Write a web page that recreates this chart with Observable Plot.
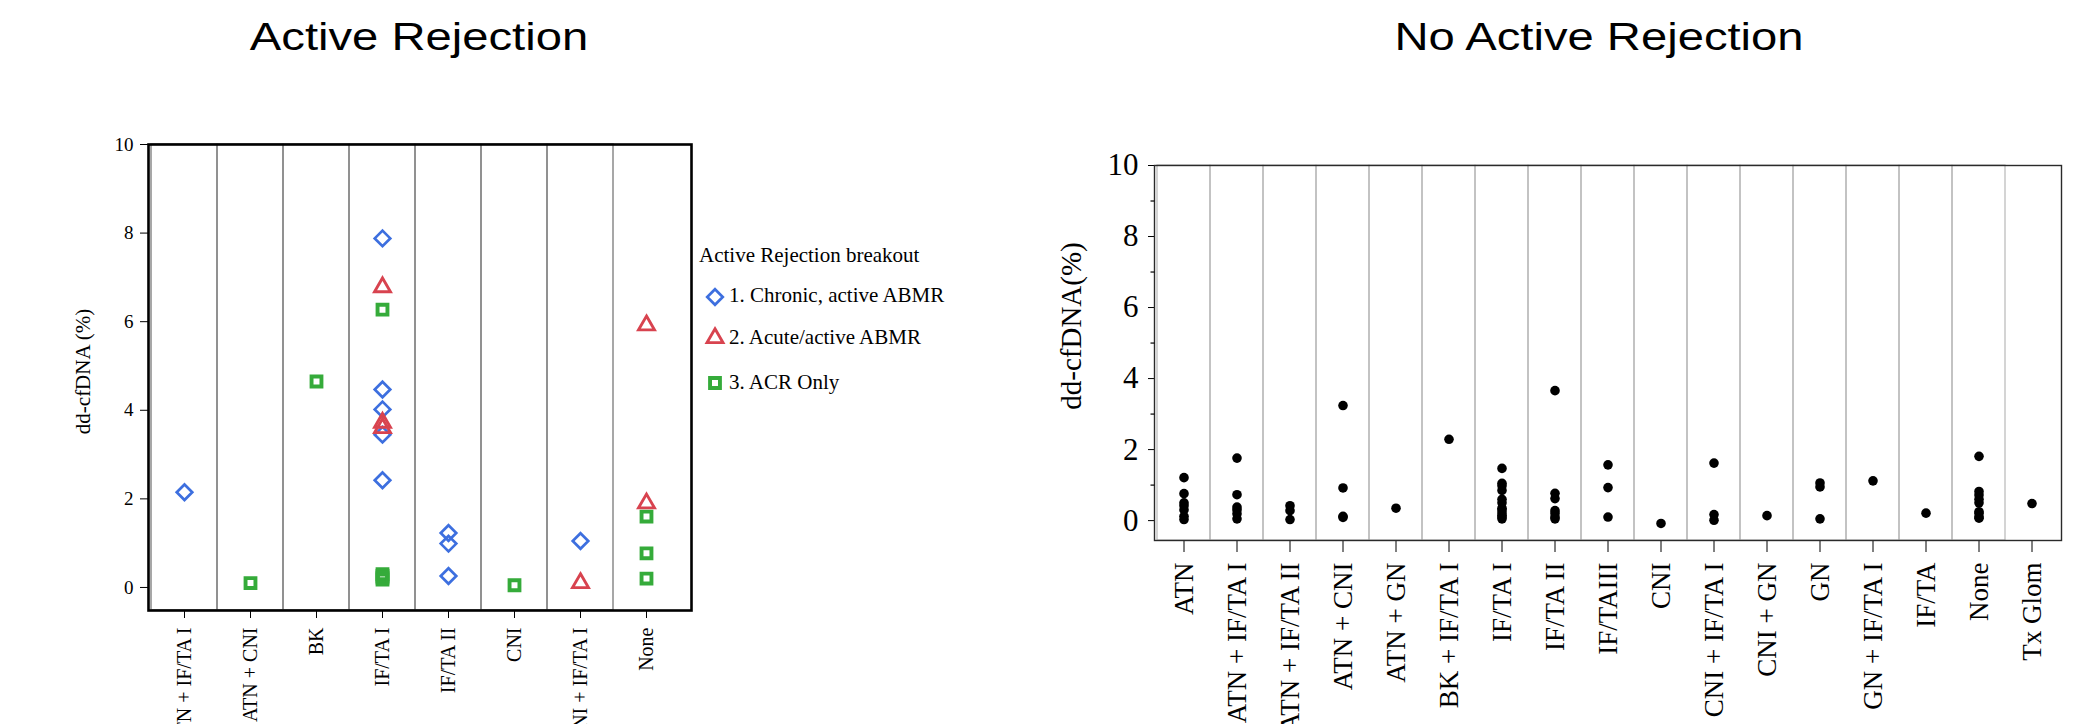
<!DOCTYPE html>
<html>
<head>
<meta charset="utf-8">
<script src="https://cdn.jsdelivr.net/npm/d3@7"></script>
<script src="https://cdn.jsdelivr.net/npm/@observablehq/plot@0.6"></script>
<style>
  html, body { margin: 0; padding: 0; background: #fff; }
  #page { position: relative; width: 2096px; height: 724px; overflow: hidden; background: #fff; }
  .title { position: absolute; top: 17px; font-family: "Liberation Sans", Arial, sans-serif; font-size: 39px; line-height: 39px; color: #000; white-space: nowrap; transform: translateX(-50%) scaleX(1.21); }
  .chart { position: absolute; top: 100px; }
  #left { left: 0; }
  #right { left: 1000px; }
  #left [aria-label^="y-axis"] text { font-size: 19px; }
  #left [aria-label^="x-axis"] text { font-size: 20px; }
  #right [aria-label^="y-axis"] text { font-size: 31px; }
  #right [aria-label^="x-axis"] text { font-size: 27px; }
  .leg { position: absolute; font-family: "Liberation Serif", "Times New Roman", serif; font-size: 21px; line-height: 21px; color: #000; white-space: nowrap; }
  .legsym { position: absolute; }
</style>
</head>
<body>
<div id="page">
  <div class="title" style="left:419px">Active Rejection</div>
  <div class="title" style="left:1599px">No Active Rejection</div>
  <div id="left" class="chart"></div>
  <div id="right" class="chart"></div>
</div>
<script>
// ---------------- Data: Active Rejection ----------------
const leftCategories = ["ATN + IF/TA I", "ATN + CNI", "BK", "IF/TA I", "IF/TA II", "CNI", "CNI + IF/TA I", "None"];
const leftYTicks = [0, 2, 4, 6, 8, 10];

const chronicCategory = ["ATN + IF/TA I", "IF/TA I", "IF/TA I", "IF/TA I", "IF/TA I", "IF/TA I", "IF/TA II", "IF/TA II", "IF/TA II", "CNI + IF/TA I"];
const chronicValue    = [2.15, 7.88, 4.47, 4.02, 3.45, 2.42, 1.23, 0.99, 0.26, 1.05];

const acuteCategory = ["IF/TA I", "IF/TA I", "IF/TA I", "CNI + IF/TA I", "None", "None"];
const acuteValue    = [6.78, 3.72, 3.6, 0.1, 5.92, 1.9];

const acrCategory = ["ATN + CNI", "BK", "IF/TA I", "IF/TA I", "IF/TA I", "IF/TA I", "IF/TA I", "CNI", "None", "None", "None"];
const acrValue    = [0.1, 4.65, 6.27, 0.3, 0.26, 0.22, 0.18, 0.05, 1.6, 0.77, 0.2];

const legendTitle = "Active Rejection breakout";
const groupNames = ["1. Chronic, active ABMR", "2. Acute/active ABMR", "3. ACR Only"];

// ---------------- Data: No Active Rejection ----------------
const rightCategories = ["ATN", "ATN + IF/TA I", "ATN + IF/TA II", "ATN + CNI", "ATN + GN", "BK + IF/TA I", "IF/TA I", "IF/TA II", "IF/TAIII", "CNI", "CNI + IF/TA I", "CNI + GN", "GN", "GN + IF/TA I", "IF/TA", "None", "Tx Glom"];
const rightYTicks = [0, 2, 4, 6, 8, 10];
const rightMinorTicks = [1, 3, 5, 7, 9];

const noRejCategory = [
  "ATN", "ATN", "ATN", "ATN", "ATN", "ATN", "ATN",
  "ATN + IF/TA I", "ATN + IF/TA I", "ATN + IF/TA I", "ATN + IF/TA I", "ATN + IF/TA I", "ATN + IF/TA I",
  "ATN + IF/TA II", "ATN + IF/TA II", "ATN + IF/TA II",
  "ATN + CNI", "ATN + CNI", "ATN + CNI", "ATN + CNI",
  "ATN + GN",
  "BK + IF/TA I",
  "IF/TA I", "IF/TA I", "IF/TA I", "IF/TA I", "IF/TA I", "IF/TA I", "IF/TA I", "IF/TA I", "IF/TA I", "IF/TA I", "IF/TA I", "IF/TA I",
  "IF/TA II", "IF/TA II", "IF/TA II", "IF/TA II", "IF/TA II", "IF/TA II", "IF/TA II",
  "IF/TAIII", "IF/TAIII", "IF/TAIII",
  "CNI",
  "CNI + IF/TA I", "CNI + IF/TA I", "CNI + IF/TA I",
  "CNI + GN",
  "GN", "GN", "GN",
  "GN + IF/TA I",
  "IF/TA",
  "None", "None", "None", "None", "None", "None", "None", "None", "None",
  "Tx Glom"
];
const noRejValue = [
  1.21, 0.76, 0.5, 0.42, 0.3, 0.12, 0.03,
  1.76, 0.73, 0.38, 0.3, 0.19, 0.05,
  0.42, 0.28, 0.03,
  3.24, 0.92, 0.12, 0.09,
  0.35,
  2.29,
  1.47, 1.05, 0.98, 0.85, 0.6, 0.5, 0.35, 0.3, 0.22, 0.15, 0.1, 0.05,
  3.66, 0.77, 0.62, 0.28, 0.2, 0.1, 0.05,
  1.57, 0.93, 0.1,
  -0.08,
  1.62, 0.17, 0.01,
  0.14,
  1.06, 0.95, 0.05,
  1.12,
  0.21,
  1.81, 0.82, 0.72, 0.6, 0.5, 0.25, 0.2, 0.1, 0.07,
  0.48
];

// ---------------- Styling ----------------
const blue = "#3d6fdf", red = "#d8434f", green = "#35ab3a";
const serif = "'Liberation Serif', 'Times New Roman', serif";

const seriesStyle = [
  {symbol: "diamond2",  d3symbol: d3.symbolDiamond2,  r: 7.0, color: blue,  sw: 2.7},
  {symbol: "triangle2", d3symbol: d3.symbolTriangle2, r: 7.6, color: red,   sw: 2.9},
  {symbol: "square2",   d3symbol: d3.symbolSquare2,   r: 6.3, color: green, sw: 3.9}
];

const rows = (cats, vals) => cats.map((c, i) => ({category: c, value: vals[i]}));
const chronicRows = rows(chronicCategory, chronicValue);
const acuteRows = rows(acuteCategory, acuteValue);
const acrRows = rows(acrCategory, acrValue);
const noRejRows = rows(noRejCategory, noRejValue);

const seriesDot = (data, s) => Plot.dot(data, {x: "category", y: "value", symbol: s.symbol, r: s.r, stroke: s.color, strokeWidth: s.sw, fill: "none"});

// ---------------- Left chart ----------------
const leftPlot = Plot.plot({
  width: 1000, height: 624,
  marginLeft: 148, marginRight: 309, marginTop: 44, marginBottom: 114,
  style: {fontFamily: serif, fontSize: "20px", color: "#000", background: "none", overflow: "visible"},
  x: {type: "band", domain: leftCategories, range: [148, 682], padding: 0, label: null, tickSize: 8, tickPadding: 9, tickRotate: -90},
  y: {domain: [-0.52, 10], ticks: leftYTicks, tickSize: 8, tickPadding: 7, label: null},
  marks: [
    Plot.cell(leftCategories.slice(0, -1), {x: d => d, fill: "none", stroke: "#8a8a8a", strokeWidth: 1.5, inset: 0}),
    Plot.frame({stroke: "#000", strokeWidth: 2.6}),
    seriesDot(acrRows, seriesStyle[2]),
    seriesDot(chronicRows, seriesStyle[0]),
    seriesDot(acuteRows, seriesStyle[1]),
    Plot.text(["dd-cfDNA (%)"], {frameAnchor: "left", textAnchor: "middle", rotate: -90, dx: -65, dy: -6, fontSize: 21})
  ]
});
document.getElementById("left").appendChild(leftPlot);

// ---------------- Legend (HTML) ----------------
const page = document.getElementById("page");
function addLegText(text, left, baseline) {
  const d = document.createElement("div");
  d.className = "leg";
  d.textContent = text;
  d.style.left = left + "px";
  d.style.top = (baseline - 17.6) + "px";
  page.appendChild(d);
}
addLegText(legendTitle, 699, 263);
const legBaselines = [303, 345, 390];
const legSymY = [297, 338, 383];
groupNames.forEach((name, i) => {
  const s = seriesStyle[i];
  const svg = d3.create("svg").attr("class", "legsym").attr("width", 30).attr("height", 30)
    .style("left", (715 - 15) + "px").style("top", (legSymY[i] - 15) + "px");
  svg.append("path")
    .attr("transform", "translate(15,15)")
    .attr("d", d3.symbol(s.d3symbol, Math.PI * s.r * s.r)())
    .attr("fill", "none").attr("stroke", s.color).attr("stroke-width", s.sw);
  page.appendChild(svg.node());
  addLegText(name, 729, legBaselines[i]);
});

// ---------------- Right chart ----------------
const leftTickSymbol = {draw(context) { context.moveTo(-4, 0); context.lineTo(0, 0); }};

const rightPlot = Plot.plot({
  width: 1096, height: 624,
  marginLeft: 154, marginRight: 35, marginTop: 65, marginBottom: 184,
  style: {fontFamily: serif, fontSize: "26px", color: "#000", background: "none", overflow: "visible"},
  x: {type: "band", domain: rightCategories, padding: 0, label: null, tickSize: 12, tickPadding: 10, tickRotate: -90},
  y: {domain: [-0.56, 10], ticks: rightYTicks, tickSize: 6, tickPadding: 10, label: null},
  marks: [
    Plot.cell(rightCategories.slice(0, -1), {x: d => d, fill: "none", stroke: "#b8b8b8", strokeWidth: 1.2, inset: 0}),
    Plot.frame({stroke: "#2a2a2a", strokeWidth: 1.4}),
    Plot.dot(rightMinorTicks, {y: d => d, frameAnchor: "left", symbol: leftTickSymbol, stroke: "#000", strokeWidth: 1.2}),
    Plot.dot(noRejRows, {x: "category", y: "value", r: 4.8, fill: "#000", stroke: "none"}),
    Plot.text(["dd-cfDNA(%)"], {frameAnchor: "left", textAnchor: "middle", rotate: -90, dx: -83, dy: -27, fontSize: 29})
  ]
});
document.getElementById("right").appendChild(rightPlot);
</script>
</body>
</html>
